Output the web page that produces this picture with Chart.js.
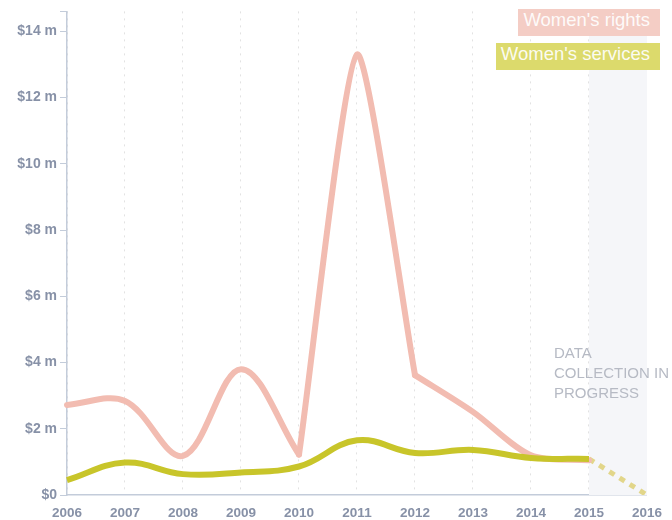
<!DOCTYPE html>
<html>
<head>
<meta charset="utf-8">
<script src="https://cdn.jsdelivr.net/npm/chart.js@4/dist/chart.umd.min.js"></script>
<style>
  html, body { margin: 0; padding: 0; background: #fff; }
  #wrap { position: relative; width: 672px; height: 520px; }
  .tag {
    position: absolute;
    right: 12px;
    height: 27px;
    line-height: 27px;
    padding: 0 10px 0 5px;
    font: 18.5px "Liberation Sans", Arial, sans-serif;
    color: rgba(255, 255, 255, 0.92);
    white-space: nowrap;
  }
</style>
</head>
<body>
<div id="wrap">
  <canvas id="chart" width="672" height="520"></canvas>
  <div class="tag" style="top:9px;background:#f4cdc5;">Women's rights</div>
  <div class="tag" style="top:43px;background:#dcda6c;">Women's services</div>
</div>
<script>
// valeurs en millions de dollars
const years = ["2006", "2007", "2008", "2009", "2010", "2011", "2012", "2013", "2014", "2015", "2016"];
const womensRights = [2.72, 2.84, 1.18, 3.8, 1.22, 13.3, 3.62, 2.51, 1.2, 1.05, null];
const womensServices = [0.45, 0.98, 0.63, 0.68, 0.86, 1.65, 1.27, 1.36, 1.12, 1.09, null];
const servicesPending = [null, null, null, null, null, null, null, null, null, 1.09, 0];
const yTicks = [0, 2, 4, 6, 8, 10, 12, 14];
const pendingFrom = "2015";
const pendingTo = "2016";
const pendingNote = ["DATA", "COLLECTION IN", "PROGRESS"];

// la courbe "rights" a des angles vifs en 2010 et 2012 -> on la coupe en morceaux
const rightsPieces = [
  { from: 0, to: 4, tension: 0.35 },
  { from: 4, to: 6, tension: 0.2 },
  { from: 6, to: 9, tension: 0.3 },
];

const tickColor = "#8791a7";
const axisColor = "#c3ccda";
const rightsColor = "#f2bcb1";

function slice(arr, from, to) {
  return arr.map((v, i) => (i >= from && i <= to ? v : null));
}

// zone grisée + texte pour l'année en cours de collecte
const pendingZone = {
  id: "pendingZone",
  beforeDatasetsDraw(chart) {
    const { ctx, chartArea, scales } = chart;
    const x0 = scales.x.getPixelForValue(years.indexOf(pendingFrom));
    const x1 = scales.x.getPixelForValue(years.indexOf(pendingTo));
    ctx.save();
    ctx.fillStyle = "#f5f6f9";
    ctx.fillRect(x0, chartArea.top, x1 - x0, chartArea.bottom - chartArea.top);
    ctx.fillStyle = "#b6bac4";
    ctx.font = '15px "Liberation Sans", Arial, sans-serif';
    ctx.textBaseline = "middle";
    const y0 = scales.y.getPixelForValue(4.25);
    pendingNote.forEach((line, i) => {
      ctx.fillText(line, x0 - 35, y0 + i * 20);
    });
    ctx.restore();
  },
};

const rightsSets = rightsPieces.map((p) => ({
  label: "Women's rights",
  data: slice(womensRights, p.from, p.to),
  borderColor: rightsColor,
  borderWidth: 6,
  borderCapStyle: "round",
  borderJoinStyle: "round",
  tension: p.tension,
  pointRadius: 0,
  order: 2,
}));

const ctx = document.getElementById("chart").getContext("2d");
new Chart(ctx, {
  type: "line",
  data: {
    labels: years,
    datasets: [
      ...rightsSets,
      {
        label: "Women's services",
        data: womensServices,
        borderColor: "#c8c52a",
        borderWidth: 6,
        tension: 0.4,
        pointRadius: 0,
        order: 1,
      },
      {
        label: "pending",
        data: servicesPending,
        borderColor: "#e2d68a",
        borderWidth: 5,
        borderDash: [6, 6],
        tension: 0,
        pointRadius: 0,
        order: 3,
      },
    ],
  },
  options: {
    responsive: false,
    animation: false,
    layout: { padding: { top: 10, right: 22, left: 0, bottom: 0 } },
    plugins: {
      legend: { display: false },
      tooltip: { enabled: false },
    },
    scales: {
      x: {
        offset: false,
        grid: {
          color: "#e2e2e2",
          lineWidth: 1,
          drawTicks: false,
        },
        border: { color: axisColor, width: 1.5, dash: [2, 5] },
        ticks: {
          color: tickColor,
          font: { family: '"Liberation Sans", Arial, sans-serif', size: 13.5, weight: "bold" },
          padding: 10,
          maxRotation: 0,
          autoSkip: false,
        },
        afterFit(scale) { scale.height = 25; },
      },
      y: {
        min: 0,
        max: 14.6,
        grid: {
          drawOnChartArea: false,
          color: axisColor,
          tickLength: 7,
        },
        border: { color: axisColor, width: 1.5 },
        ticks: {
          color: tickColor,
          font: { family: '"Liberation Sans", Arial, sans-serif', size: 14, weight: "bold" },
          padding: 3,
          stepSize: 2,
          callback: (v) => (yTicks.includes(v) ? (v === 0 ? "$0" : "$" + v + " m") : ""),
        },
        afterFit(scale) { scale.width = 67; },
      },
    },
  },
  plugins: [pendingZone],
});
</script>
</body>
</html>
